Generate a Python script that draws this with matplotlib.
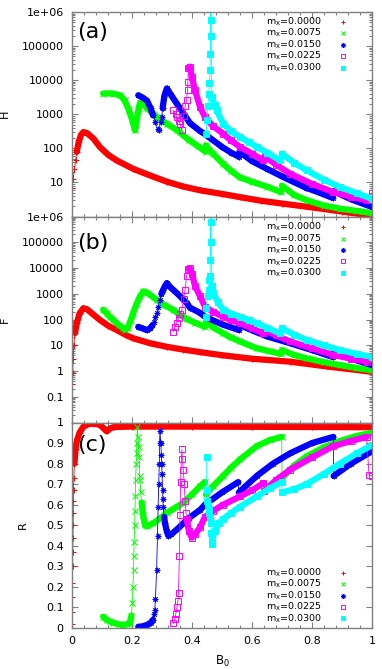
import matplotlib
matplotlib.use("Agg")
import matplotlib.pyplot as plt
from matplotlib.ticker import FixedLocator, FixedFormatter, MultipleLocator, LogLocator, NullFormatter

plt.rcParams["font.family"] = "DejaVu Sans"
plt.rcParams["mathtext.default"] = "regular"

mx_labels = ["0.0000", "0.0075", "0.0150", "0.0225", "0.0300"]
colors = ["#ff0000", "#00ff00", "#0000ff", "#ff00ff", "#00ffff"]
markers = ["+", "x", (8, 2, 0), "s", "s"]
marker_faces = ["#ff0000", "#00ff00", "#0000ff", "none", "#00ffff"]

# each series is a list of branches (B0, value); single-point branches are isolated samples

# ---- panel (a): H ----
H_0000 = [
    [(0.0, 7)], [(0.004, 13)], [(0.008, 25)], [(0.012, 45)],
    [(0.016, 80), (0.022, 150), (0.03, 250), (0.038, 300), (0.05, 280), (0.071, 195), (0.093, 109),
     (0.12, 65), (0.149, 44), (0.18, 32), (0.204, 25), (0.26, 16), (0.316, 10.5), (0.37, 7.6),
     (0.43, 5.8), (0.5, 4.6), (0.56, 3.7), (0.63, 2.9), (0.7, 2.4), (0.8, 1.85), (0.9, 1.4), (1.0, 1.05)],
]
H_0075 = [
    [(0.104, 4000), (0.12, 4100), (0.14, 4000), (0.16, 3600), (0.175, 2600), (0.19, 1300), (0.2, 700),
     (0.207, 420), (0.21, 340), (0.213, 500), (0.218, 900), (0.222, 1500), (0.227, 2200), (0.235, 2000),
     (0.25, 1500), (0.27, 1050), (0.29, 750), (0.316, 530), (0.35, 340), (0.39, 175), (0.42, 115), (0.445, 80)],
    [(0.446, 122), (0.47, 70), (0.504, 35), (0.53, 22), (0.56, 14), (0.6, 10.5), (0.65, 7.5), (0.697, 5.2)],
    [(0.7, 8), (0.74, 4.3), (0.782, 3.0), (0.84, 2.1), (0.893, 1.7), (0.95, 1.45), (1.0, 1.26)],
]
H_0150 = [
    [(0.221, 3600), (0.235, 3100), (0.25, 2500), (0.262, 1500), (0.27, 930)],
    [(0.278, 600)], [(0.285, 380)], [(0.29, 340)], [(0.295, 600)], [(0.299, 830)],
    [(0.302, 1500), (0.308, 3500), (0.316, 5700), (0.33, 3700), (0.35, 2000), (0.37, 1100), (0.393, 550),
     (0.427, 320), (0.443, 260), (0.5, 110), (0.53, 75), (0.556, 57)],
    [(0.558, 80), (0.6, 42), (0.65, 25), (0.7, 15), (0.727, 11.5), (0.78, 7), (0.83, 4.8), (0.869, 3.5)],
    [(0.872, 5.5), (0.93, 3.2), (1.0, 1.9)],
]
H_0225 = [
    [(0.338, 1300)], [(0.345, 1000)], [(0.349, 830)], [(0.355, 650)], [(0.36, 530)], [(0.366, 340)],
    [(0.372, 900)], [(0.378, 1800)], [(0.382, 2600)], [(0.385, 5000)], [(0.386, 9000)],
    [(0.388, 22000), (0.393, 25000), (0.4, 12000), (0.41, 5100), (0.427, 1630), (0.443, 830),
     (0.47, 450), (0.504, 270), (0.53, 170), (0.56, 110), (0.6, 70), (0.638, 44)],
    [(0.642, 60), (0.68, 33), (0.727, 18), (0.8, 9), (0.871, 5.2), (0.93, 3.8), (0.982, 3.0)],
    [(1.0, 4.9)],
]
H_0300 = [
    [(0.447, 270)], [(0.45, 700)], [(0.453, 1700)], [(0.456, 4000)], [(0.458, 8000)], [(0.46, 20000)],
    [(0.461, 60000)], [(0.462, 200000)], [(0.462, 600000)], [(0.463, 2000000)],
    [(0.466, 3200), (0.475, 1900), (0.482, 1300), (0.504, 530), (0.53, 320), (0.56, 215), (0.59, 150),
     (0.616, 110), (0.65, 75), (0.693, 44)],
    [(0.699, 70), (0.74, 38), (0.782, 22.6), (0.84, 12), (0.893, 7.3), (0.95, 4.8), (1.0, 3.3)],
]

# ---- panel (b): F ----
F_0000 = [
    [(0.0, 0.3)], [(0.002, 0.8)], [(0.004, 3)], [(0.006, 10)],
    [(0.01, 30), (0.016, 72), (0.025, 170), (0.038, 275), (0.05, 250), (0.07, 160), (0.093, 96),
     (0.12, 58), (0.149, 39), (0.18, 25), (0.204, 18.6), (0.26, 12), (0.316, 8.7), (0.37, 6.8),
     (0.427, 5.4), (0.5, 4.1), (0.6, 3.0), (0.727, 2.3), (0.85, 1.5), (1.0, 0.93)],
]
F_0075 = [
    [(0.104, 237), (0.115, 180), (0.125, 130), (0.138, 96), (0.155, 62), (0.171, 46), (0.177, 40),
     (0.185, 45), (0.195, 90), (0.204, 178), (0.215, 400), (0.227, 800), (0.238, 1230), (0.25, 1100),
     (0.282, 590), (0.31, 350), (0.338, 237), (0.36, 150), (0.382, 105), (0.41, 75), (0.443, 52)],
    [(0.446, 83), (0.47, 50), (0.504, 29), (0.53, 20), (0.56, 14), (0.616, 7.6), (0.66, 5.8), (0.697, 4.6)],
    [(0.7, 6.5), (0.74, 4.2), (0.782, 3.1), (0.84, 2.2), (0.893, 1.7), (0.95, 1.3), (1.0, 1.07)],
]
F_0150 = [
    [(0.221, 52), (0.235, 45), (0.249, 39), (0.26, 45), (0.268, 60)],
    [(0.272, 80)], [(0.277, 120)], [(0.282, 178)], [(0.287, 300)], [(0.293, 590)],
    [(0.298, 1000), (0.304, 1440), (0.31, 2000), (0.316, 2600), (0.33, 1700), (0.349, 1070),
     (0.365, 700), (0.382, 440), (0.393, 290), (0.427, 180), (0.443, 128), (0.5, 65), (0.556, 39)],
    [(0.558, 62), (0.6, 38), (0.65, 22), (0.727, 12), (0.8, 6.5), (0.869, 3.5)],
    [(0.872, 5.6), (0.93, 3.0), (1.0, 1.7)],
]
F_0225 = [
    [(0.338, 34)], [(0.343, 50)], [(0.349, 72)], [(0.355, 110)], [(0.36, 170)], [(0.366, 237)],
    [(0.372, 600)], [(0.377, 1440)], [(0.382, 4800)],
    [(0.388, 9000), (0.393, 10000), (0.4, 6000), (0.41, 2000), (0.427, 800), (0.443, 316), (0.47, 200),
     (0.504, 128), (0.53, 95), (0.56, 72), (0.6, 45), (0.638, 29)],
    [(0.642, 39), (0.68, 24), (0.727, 14), (0.8, 7.5), (0.871, 4.2), (0.93, 3.0), (0.982, 2.3)],
    [(1.0, 3.8)],
]
F_0300 = [
    [(0.447, 128)], [(0.447, 275)], [(0.452, 800)], [(0.455, 1440)], [(0.458, 3500)], [(0.46, 5000)],
    [(0.461, 20000)], [(0.462, 100000)], [(0.462, 600000)], [(0.463, 2000000)],
    [(0.465, 2000), (0.471, 1070), (0.485, 500), (0.504, 237), (0.53, 170), (0.56, 128), (0.59, 95),
     (0.616, 72), (0.65, 48), (0.693, 29)],
    [(0.699, 46), (0.74, 26), (0.782, 16), (0.84, 10), (0.893, 6.5), (0.95, 4.6), (1.0, 3.5)],
]

# ---- panel (c): R ----
R_0000 = [
    [(0.0, 0.02)], [(0.0005, 0.08)], [(0.001, 0.15)], [(0.0015, 0.22)], [(0.002, 0.3)], [(0.0025, 0.37)],
    [(0.003, 0.44)], [(0.0035, 0.5)], [(0.004, 0.56)], [(0.0045, 0.62)], [(0.005, 0.67)], [(0.006, 0.73)],
    [(0.008, 0.8), (0.012, 0.87), (0.016, 0.91), (0.025, 0.95), (0.038, 0.98), (0.05, 0.99), (0.07, 0.995),
     (0.09, 0.99), (0.1, 0.98), (0.11, 0.965), (0.116, 0.957), (0.125, 0.97), (0.14, 0.978), (0.2, 0.98),
     (0.4, 0.98), (0.6, 0.979), (0.8, 0.978), (1.0, 0.977)],
]
R_0075 = [
    [(0.104, 0.055), (0.115, 0.04), (0.125, 0.032), (0.138, 0.025), (0.155, 0.018), (0.171, 0.015),
     (0.185, 0.018), (0.193, 0.026), (0.198, 0.06)],
    [(0.201, 0.12)], [(0.203, 0.2)], [(0.205, 0.28)], [(0.206, 0.35)], [(0.207, 0.42)], [(0.209, 0.5)],
    [(0.21, 0.57)], [(0.211, 0.64)], [(0.212, 0.72)], [(0.214, 0.8)], [(0.215, 0.85)], [(0.216, 0.9)],
    [(0.218, 0.98)], [(0.22, 0.93)], [(0.222, 0.88)], [(0.224, 0.83)], [(0.225, 0.74)], [(0.227, 0.72)],
    [(0.229, 0.66)],
    [(0.232, 0.61), (0.237, 0.55), (0.243, 0.5), (0.25, 0.495), (0.271, 0.51), (0.3, 0.54), (0.316, 0.56),
     (0.35, 0.59), (0.371, 0.61), (0.4, 0.65), (0.427, 0.69), (0.443, 0.71)],
    [(0.447, 0.65), (0.47, 0.69), (0.504, 0.74), (0.53, 0.78), (0.56, 0.82), (0.616, 0.885), (0.66, 0.915),
     (0.699, 0.93)],
    [(0.7, 0.73), (0.74, 0.79), (0.782, 0.835), (0.84, 0.88), (0.893, 0.91), (0.95, 0.935), (1.0, 0.95)],
]
R_0150 = [
    [(0.221, 0.006), (0.235, 0.008), (0.25, 0.015), (0.262, 0.025), (0.27, 0.04)],
    [(0.274, 0.07)], [(0.276, 0.09)], [(0.278, 0.14)], [(0.282, 0.28)], [(0.285, 0.45)], [(0.287, 0.59)],
    [(0.289, 0.7)], [(0.291, 0.8)], [(0.292, 0.9)], [(0.293, 0.96)], [(0.296, 0.9)], [(0.298, 0.84)],
    [(0.299, 0.8)], [(0.3, 0.75)], [(0.302, 0.67)], [(0.303, 0.63)], [(0.304, 0.59)],
    [(0.307, 0.54), (0.31, 0.51), (0.316, 0.47), (0.321, 0.45), (0.33, 0.455), (0.35, 0.48), (0.39, 0.535),
     (0.427, 0.575), (0.443, 0.6), (0.5, 0.66), (0.554, 0.71)],
    [(0.556, 0.66), (0.616, 0.74), (0.67, 0.8), (0.727, 0.85), (0.8, 0.9), (0.871, 0.93)],
    [(0.872, 0.74), (0.93, 0.8), (1.0, 0.86)],
]
R_0225 = [
    [(0.338, 0.023)], [(0.343, 0.045)], [(0.346, 0.07)], [(0.35, 0.1)], [(0.353, 0.13)], [(0.355, 0.17)],
    [(0.358, 0.35)], [(0.36, 0.55)], [(0.362, 0.71)], [(0.366, 0.87)], [(0.368, 0.82)], [(0.371, 0.77)],
    [(0.374, 0.7)], [(0.377, 0.62)], [(0.38, 0.56)],
    [(0.382, 0.53), (0.39, 0.47), (0.399, 0.44), (0.41, 0.455), (0.427, 0.49), (0.443, 0.54), (0.47, 0.57),
     (0.504, 0.6), (0.56, 0.64), (0.6, 0.67), (0.638, 0.705)],
    [(0.64, 0.665), (0.68, 0.72), (0.727, 0.77), (0.8, 0.83), (0.871, 0.885), (0.93, 0.91), (0.982, 0.93)],
    [(0.99, 0.745)], [(1.0, 0.74)],
]
R_0300 = [
    [(0.449, 0.83)], [(0.449, 0.67)], [(0.45, 0.62)], [(0.452, 0.6)], [(0.455, 0.58)], [(0.458, 0.56)],
    [(0.46, 0.54)], [(0.462, 0.51)], [(0.464, 0.46)], [(0.466, 0.41)],
    [(0.468, 0.43), (0.475, 0.47), (0.49, 0.51), (0.504, 0.53), (0.53, 0.56), (0.56, 0.59), (0.616, 0.64),
     (0.66, 0.68), (0.699, 0.71)],
    [(0.7, 0.66), (0.74, 0.675), (0.782, 0.70), (0.84, 0.75), (0.893, 0.80), (0.95, 0.85), (1.0, 0.89)],
]

H_series = [H_0000, H_0075, H_0150, H_0225, H_0300]
F_series = [F_0000, F_0075, F_0150, F_0225, F_0300]
R_series = [R_0000, R_0075, R_0150, R_0225, R_0300]

log_ticks_a = [1, 10, 100, 1000, 10000, 100000, 1000000]
log_labels_a = ["", "10", "100", "1000", "10000", "100000", "1e+06"]
log_ticks_b = [0.01, 0.1, 1, 10, 100, 1000, 10000, 100000, 1000000]
log_labels_b = ["", "0.1", "1", "10", "100", "1000", "10000", "100000", "1e+06"]
x_ticks = [0, 0.2, 0.4, 0.6, 0.8, 1.0]
x_labels = ["0", "0.2", "0.4", "0.6", "0.8", "1"]
r_ticks = [0, 0.1, 0.2, 0.3, 0.4, 0.5, 0.6, 0.7, 0.8, 0.9, 1.0]
r_labels = ["0", "0.1", "0.2", "0.3", "0.4", "0.5", "0.6", "0.7", "0.8", "0.9", "1"]

GRAY = "#808080"
FS = 8
LEG_FS = 6.8


def draw_series(ax, branches, color, marker, mfc):
    pts = [p for br in branches for p in br]
    xs = [p[0] for p in pts]
    ys = [p[1] for p in pts]
    ax.plot(xs, ys, color=color, lw=0.6)
    for br in branches:
        if len(br) > 1:
            ax.plot([p[0] for p in br], [p[1] for p in br], color=color, lw=4.5,
                    solid_capstyle="round", solid_joinstyle="round")
    ax.plot(xs, ys, ls="none", marker=marker, color=color, mfc=mfc, ms=4, mew=0.7)


def style_axes(ax):
    for sp in ax.spines.values():
        sp.set_color(GRAY)
        sp.set_linewidth(1.0)
    ax.tick_params(which="both", direction="in", top=True, right=True, colors=GRAY,
                   labelcolor="black", labelsize=FS, pad=6)
    ax.tick_params(which="major", length=4.5, width=0.8)
    ax.tick_params(which="minor", length=2.5, width=0.8)
    ax.set_xlim(0, 1)
    ax.xaxis.set_major_locator(FixedLocator(x_ticks))
    ax.xaxis.set_minor_locator(MultipleLocator(0.04))


def draw_legend(ax, x_text, x_mark, y_top, dy):
    for i, lab in enumerate(mx_labels):
        y = y_top - i * dy
        ax.text(x_text, y, "m$_x$=" + lab, transform=ax.transAxes, ha="right", va="center",
                fontsize=LEG_FS, color="black")
        ax.plot([x_mark], [y], transform=ax.transAxes, ls="none", marker=markers[i], color=colors[i],
                mfc=marker_faces[i], ms=3.5, mew=0.7, clip_on=False)


fig = plt.figure(figsize=(3.82, 6.69), dpi=100)
left, width = 72 / 382, 300 / 382
ax_a = fig.add_axes([left, 1 - 216.5 / 669, width, 204.5 / 669])
ax_b = fig.add_axes([left, 1 - 422.5 / 669, width, 206 / 669])
ax_c = fig.add_axes([left, 1 - 628 / 669, width, 205.5 / 669])

# (a) H
for i, s in enumerate(H_series):
    draw_series(ax_a, s, colors[i], markers[i], marker_faces[i])
ax_a.set_yscale("log")
ax_a.set_ylim(1, 1e6)
style_axes(ax_a)
ax_a.yaxis.set_major_locator(FixedLocator(log_ticks_a))
ax_a.yaxis.set_major_formatter(FixedFormatter(log_labels_a))
ax_a.yaxis.set_minor_locator(LogLocator(base=10, subs=range(2, 10), numticks=20))
ax_a.yaxis.set_minor_formatter(NullFormatter())
ax_a.set_xticklabels([])
ax_a.set_ylabel("H", fontsize=FS)
ax_a.yaxis.set_label_coords(-0.207, 0.5)
ax_a.text(0.016, 0.9, "(a)", transform=ax_a.transAxes, fontsize=16, ha="left", va="center")
draw_legend(ax_a, 0.833, 0.903, 0.953, 0.0562)

# (b) F
for i, s in enumerate(F_series):
    draw_series(ax_b, s, colors[i], markers[i], marker_faces[i])
ax_b.set_yscale("log")
ax_b.set_ylim(0.01, 1e6)
style_axes(ax_b)
ax_b.yaxis.set_major_locator(FixedLocator(log_ticks_b))
ax_b.yaxis.set_major_formatter(FixedFormatter(log_labels_b))
ax_b.yaxis.set_minor_locator(LogLocator(base=10, subs=range(2, 10), numticks=20))
ax_b.yaxis.set_minor_formatter(NullFormatter())
ax_b.set_xticklabels([])
ax_b.set_ylabel("F", fontsize=FS)
ax_b.yaxis.set_label_coords(-0.207, 0.5)
ax_b.text(0.016, 0.87, "(b)", transform=ax_b.transAxes, fontsize=16, ha="left", va="center")
draw_legend(ax_b, 0.833, 0.903, 0.948, 0.0553)

# (c) R
for i, s in enumerate(R_series):
    draw_series(ax_c, s, colors[i], markers[i], marker_faces[i])
ax_c.set_ylim(0, 1)
style_axes(ax_c)
ax_c.yaxis.set_major_locator(FixedLocator(r_ticks))
ax_c.yaxis.set_major_formatter(FixedFormatter(r_labels))
ax_c.xaxis.set_major_formatter(FixedFormatter(x_labels))
ax_c.set_ylabel("R", fontsize=FS)
ax_c.yaxis.set_label_coords(-0.147, 0.5)
ax_c.set_xlabel("B$_0$", fontsize=8.5)
ax_c.xaxis.set_label_coords(0.5, -0.128)
ax_c.text(0.016, 0.89, "(c)", transform=ax_c.transAxes, fontsize=16, ha="left", va="center")
draw_legend(ax_c, 0.833, 0.903, 0.269, 0.0555)

fig.savefig("out.png", dpi=100)
